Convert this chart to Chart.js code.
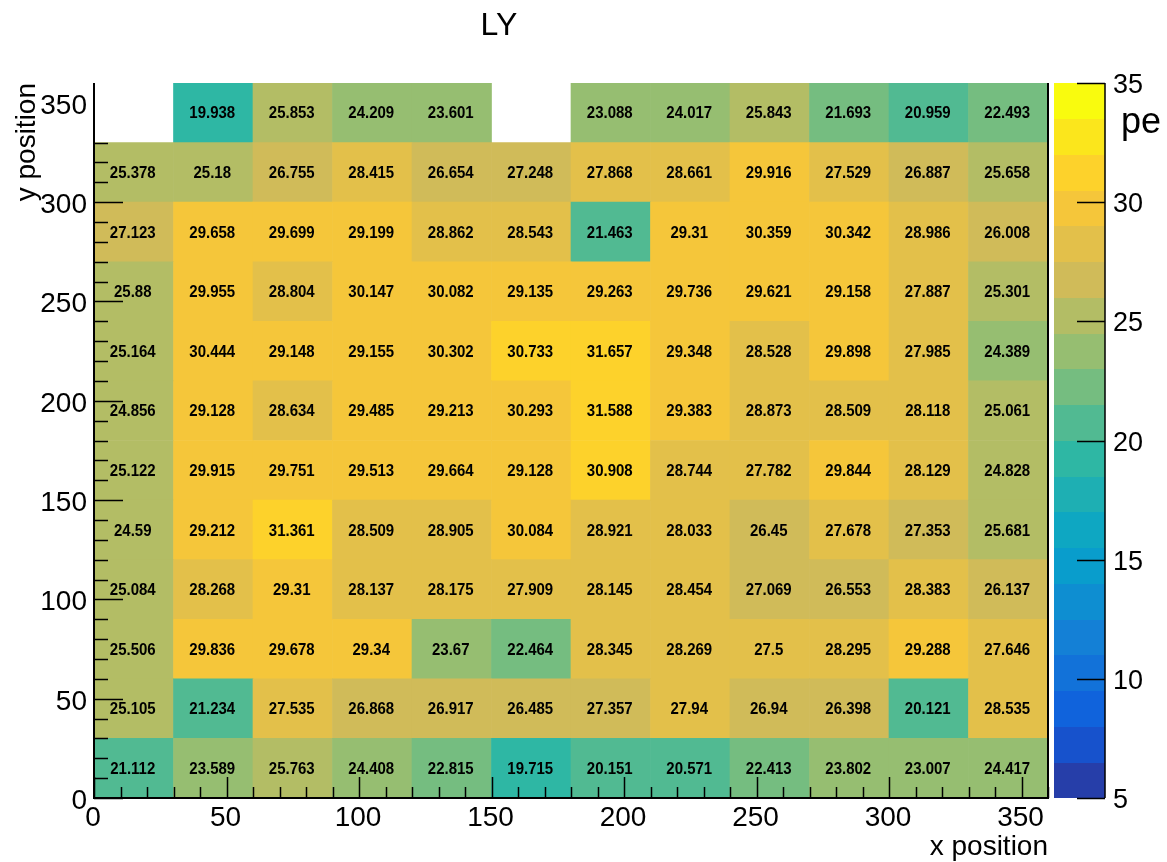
<!DOCTYPE html>
<html>
<head>
<meta charset="utf-8">
<title>LY</title>
<script src="https://cdn.jsdelivr.net/npm/chart.js@4.4.1/dist/chart.umd.min.js"></script>
<style>
  html, body { margin: 0; padding: 0; background: #fff; }
  canvas { display: block; }
</style>
</head>
<body>
<canvas id="lyChart" width="1167" height="862"></canvas>
<script>
// bin centres along x and lower bin edges along y (both in position units)
const xBins = [15, 45, 75, 105, 135, 165, 195, 225, 255, 285, 315, 345];
const yBinLow = [0, 30, 60, 90, 120, 150, 180, 210, 240, 270, 300, 330];
const binHeight = 30;

// LY per bin, one array per row of y, from y = 0 upwards (null = empty bin)
const row0 = [21.112, 23.589, 25.763, 24.408, 22.815, 19.715, 20.151, 20.571, 22.413, 23.802, 23.007, 24.417];
const row1 = [25.105, 21.234, 27.535, 26.868, 26.917, 26.485, 27.357, 27.94, 26.94, 26.398, 20.121, 28.535];
const row2 = [25.506, 29.836, 29.678, 29.34, 23.67, 22.464, 28.345, 28.269, 27.5, 28.295, 29.288, 27.646];
const row3 = [25.084, 28.268, 29.31, 28.137, 28.175, 27.909, 28.145, 28.454, 27.069, 26.553, 28.383, 26.137];
const row4 = [24.59, 29.212, 31.361, 28.509, 28.905, 30.084, 28.921, 28.033, 26.45, 27.678, 27.353, 25.681];
const row5 = [25.122, 29.915, 29.751, 29.513, 29.664, 29.128, 30.908, 28.744, 27.782, 29.844, 28.129, 24.828];
const row6 = [24.856, 29.128, 28.634, 29.485, 29.213, 30.293, 31.588, 29.383, 28.873, 28.509, 28.118, 25.061];
const row7 = [25.164, 30.444, 29.148, 29.155, 30.302, 30.733, 31.657, 29.348, 28.528, 29.898, 27.985, 24.389];
const row8 = [25.88, 29.955, 28.804, 30.147, 30.082, 29.135, 29.263, 29.736, 29.621, 29.158, 27.887, 25.301];
const row9 = [27.123, 29.658, 29.699, 29.199, 28.862, 28.543, 21.463, 29.31, 30.359, 30.342, 28.986, 26.008];
const row10 = [25.378, 25.18, 26.755, 28.415, 26.654, 27.248, 27.868, 28.661, 29.916, 27.529, 26.887, 25.658];
const row11 = [null, 19.938, 25.853, 24.209, 23.601, null, 23.088, 24.017, 25.843, 21.693, 20.959, 22.493];
const rows = [row0, row1, row2, row3, row4, row5, row6, row7, row8, row9, row10, row11];

// axis tick labels
const xTickLabels = [0, 50, 100, 150, 200, 250, 300, 350];
const yTickLabels = [0, 50, 100, 150, 200, 250, 300, 350];
const zTickLabels = [5, 10, 15, 20, 25, 30, 35];

// colour scale
const zMin = 5;
const zMax = 35;
const nContours = 20;

// ROOT kBird palette stops
const birdStops = [0, 0.125, 0.25, 0.375, 0.5, 0.625, 0.75, 0.875, 1];
const birdR = [0.2082, 0.0592, 0.0780, 0.0232, 0.1802, 0.5301, 0.8186, 0.9956, 0.9764];
const birdG = [0.1664, 0.3599, 0.5041, 0.6419, 0.7178, 0.7492, 0.7328, 0.7862, 0.9832];
const birdB = [0.5293, 0.8684, 0.8385, 0.7914, 0.6425, 0.4662, 0.3499, 0.1968, 0.0539];

function birdColor(f) {
    let k = 0;
    while (k < birdStops.length - 2 && f > birdStops[k + 1]) k++;
    const t = (f - birdStops[k]) / (birdStops[k + 1] - birdStops[k]);
    const c = arr => Math.round(255 * (arr[k] + (arr[k + 1] - arr[k]) * t));
    return `rgb(${c(birdR)}, ${c(birdG)}, ${c(birdB)})`;
}

const bandColors = [];
for (let i = 0; i < nContours; i++) bandColors.push(birdColor((i + 0.99) / nContours));

function colorFor(v) {
    let i = Math.floor((v - zMin) / (zMax - zMin) * nContours);
    i = Math.max(0, Math.min(nContours - 1, i));
    return bandColors[i];
}

const FONT = '"Liberation Sans", Arial, Helvetica, sans-serif';

// one floating-bar dataset per y row
const datasets = rows.map((row, r) => ({
    label: 'y ' + yBinLow[r],
    data: row.map((v, c) => v === null ? null : { x: xBins[c], y: [yBinLow[r], yBinLow[r] + binHeight], v: v })
             .filter(d => d !== null),
    backgroundColor: ctx => ctx.raw ? colorFor(ctx.raw.v) : 'transparent',
    borderWidth: 0,
    borderSkipped: false,
    grouped: false,
    barPercentage: 1,
    categoryPercentage: 1
}));

// cell text (slightly tall, like ROOT's bold helvetica)
const cellLabels = {
    id: 'cellLabels',
    afterDatasetsDraw(chart) {
        const ctx = chart.ctx;
        ctx.save();
        ctx.fillStyle = '#000';
        ctx.font = 'bold 15px ' + FONT;
        ctx.textAlign = 'center';
        ctx.textBaseline = 'middle';
        chart.data.datasets.forEach((ds, i) => {
            chart.getDatasetMeta(i).data.forEach((bar, j) => {
                const p = bar.getProps(['x', 'y', 'base'], true);
                ctx.save();
                ctx.translate(p.x - 1, (p.y + p.base) / 2 + 1);
                ctx.scale(1, 1.12);
                ctx.fillText(String(ds.data[j].v), 0, 0);
                ctx.restore();
            });
        });
        ctx.restore();
    }
};

// ROOT-like frame, axes, colour bar and titles
const rootAxes = {
    id: 'rootAxes',
    afterDraw(chart) {
        const ctx = chart.ctx;
        const { left, right, top, bottom } = chart.chartArea;
        const xs = chart.scales.x, ys = chart.scales.y, zs = chart.scales.z;
        ctx.save();
        ctx.strokeStyle = '#000';
        ctx.fillStyle = '#000';

        // ticks inside the frame
        ctx.lineWidth = 1.5;
        ctx.beginPath();
        for (let v = 0; v <= 360; v += 10) {
            const px = Math.round(xs.getPixelForValue(v)) + 0.5;
            const len = v % 50 === 0 ? 21 : 11;
            ctx.moveTo(px, bottom);
            ctx.lineTo(px, bottom - len);
        }
        for (let v = 0; v <= 330; v += 10) {
            const py = Math.round(ys.getPixelForValue(v)) + 0.5;
            const len = v % 50 === 0 ? 29 : 14;
            ctx.moveTo(left, py);
            ctx.lineTo(left + len, py);
        }
        ctx.stroke();

        // frame: left, bottom, right
        ctx.lineWidth = 2;
        ctx.beginPath();
        ctx.moveTo(left, top);
        ctx.lineTo(left, bottom);
        ctx.lineTo(right, bottom);
        ctx.lineTo(right, top);
        ctx.stroke();

        // tick labels
        ctx.font = '28px ' + FONT;
        ctx.textBaseline = 'alphabetic';
        ctx.textAlign = 'center';
        xTickLabels.forEach(v => ctx.fillText(String(v), xs.getPixelForValue(v) - 1, bottom + 28));
        ctx.textAlign = 'right';
        yTickLabels.forEach(v => ctx.fillText(String(v), left - 7, ys.getPixelForValue(v) + 11));

        // axis titles
        ctx.font = '28px ' + FONT;
        ctx.textAlign = 'right';
        ctx.fillText('x position', right, 855);
        ctx.save();
        ctx.translate(35, top);
        ctx.rotate(-Math.PI / 2);
        ctx.textAlign = 'right';
        ctx.fillText('y position', 0, 0);
        ctx.restore();

        // title
        ctx.font = '32px ' + FONT;
        ctx.textAlign = 'center';
        ctx.fillText('LY', 499, 35);

        // colour bar
        const barL = 1054, barR = 1105;
        for (let i = 0; i < nContours; i++) {
            const z0 = zMin + (zMax - zMin) * i / nContours;
            const z1 = zMin + (zMax - zMin) * (i + 1) / nContours;
            const y0 = zs.getPixelForValue(z0), y1 = zs.getPixelForValue(z1);
            ctx.fillStyle = bandColors[i];
            ctx.fillRect(barL, Math.floor(y1), barR - barL, Math.ceil(y0) - Math.floor(y1));
        }
        ctx.strokeStyle = '#000';
        ctx.lineWidth = 1.5;
        ctx.beginPath();
        ctx.moveTo(barR, zs.getPixelForValue(zMin));
        ctx.lineTo(barR, zs.getPixelForValue(zMax));
        zTickLabels.forEach(v => {
            const py = Math.round(zs.getPixelForValue(v)) + 0.5;
            ctx.moveTo(barR, py);
            ctx.lineTo(barR - 28, py);
        });
        ctx.stroke();
        ctx.fillStyle = '#000';
        ctx.font = '27px ' + FONT;
        ctx.textAlign = 'left';
        zTickLabels.forEach(v => ctx.fillText(String(v), barR + 8, zs.getPixelForValue(v) + 10));

        // z title
        ctx.font = '36px ' + FONT;
        ctx.fillText('pe', 1121, 133);
        ctx.restore();
    }
};

new Chart(document.getElementById('lyChart').getContext('2d'), {
    type: 'bar',
    data: { datasets: datasets },
    options: {
        responsive: false,
        animation: false,
        events: [],
        layout: { padding: { left: 94, top: 83, right: 119, bottom: 64 } },
        scales: {
            x: { type: 'linear', min: 0, max: 360, offset: false, display: false },
            y: { type: 'linear', min: 0, max: 360, display: false },
            z: { type: 'linear', axis: 'y', min: zMin, max: zMax, display: false }
        },
        plugins: {
            legend: { display: false },
            tooltip: { enabled: false }
        }
    },
    plugins: [cellLabels, rootAxes]
});
</script>
</body>
</html>
